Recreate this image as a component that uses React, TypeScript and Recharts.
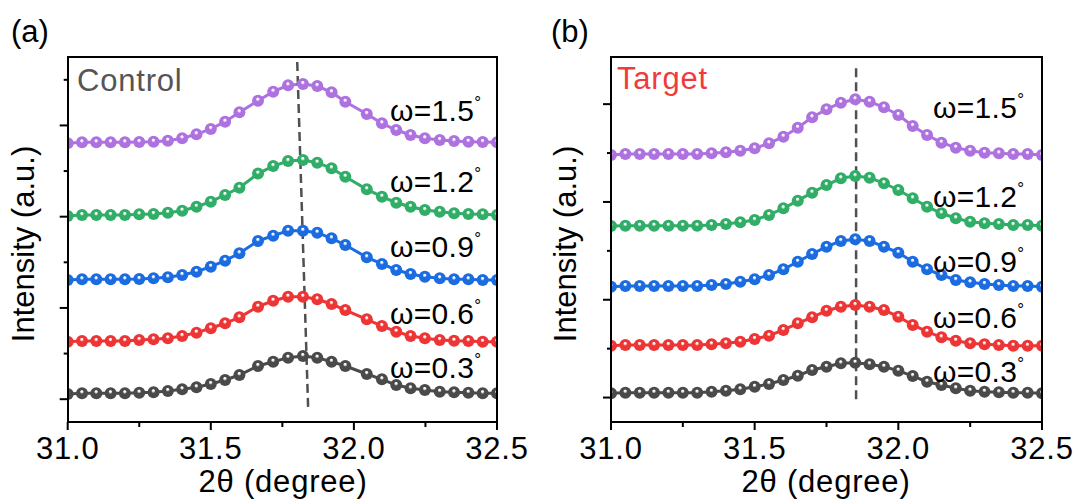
import { LineChart, Line, XAxis, YAxis, ReferenceLine } from 'recharts'

// 2θ positions of the scan points (degree)
const controlTheta = [
  31.0, 31.05, 31.1, 31.15, 31.2, 31.25, 31.3, 31.35, 31.4, 31.45, 31.5, 31.55, 31.6, 31.665, 31.718,
  31.77, 31.822, 31.872, 31.922, 31.97, 32.045, 32.098, 32.148, 32.198, 32.248, 32.3, 32.35, 32.4, 32.45, 32.5,
]
const targetTheta = [
  31.0, 31.05, 31.1, 31.15, 31.2, 31.25, 31.3, 31.35, 31.4, 31.45, 31.5, 31.55, 31.6, 31.65, 31.7, 31.75,
  31.8, 31.85, 31.9, 31.95, 32.0, 32.05, 32.1, 32.15, 32.2, 32.25, 32.3, 32.35, 32.4, 32.45, 32.5,
]

// stacked intensities (a.u.), control sample
const control03 = [
  0.307, 0.315, 0.315, 0.315, 0.315, 0.321, 0.325, 0.34, 0.358, 0.38, 0.416, 0.46, 0.515, 0.614, 0.661,
  0.705, 0.723, 0.705, 0.661, 0.614, 0.526, 0.468, 0.405, 0.369, 0.351, 0.332, 0.325, 0.321, 0.315, 0.315,
]
const control06 = [
  0.88, 0.888, 0.888, 0.888, 0.888, 0.899, 0.906, 0.917, 0.942, 0.979, 1.027, 1.082, 1.147, 1.264, 1.329,
  1.373, 1.373, 1.345, 1.293, 1.227, 1.125, 1.052, 0.99, 0.942, 0.917, 0.899, 0.891, 0.888, 0.88, 0.88,
]
const control09 = [
  1.556, 1.564, 1.564, 1.564, 1.564, 1.567, 1.575, 1.586, 1.611, 1.647, 1.702, 1.768, 1.849, 1.984, 2.042,
  2.096, 2.096, 2.075, 2.013, 1.94, 1.805, 1.732, 1.666, 1.622, 1.592, 1.575, 1.564, 1.564, 1.556, 1.556,
]
const control12 = [
  2.258, 2.268, 2.268, 2.268, 2.268, 2.276, 2.279, 2.294, 2.316, 2.359, 2.414, 2.488, 2.568, 2.722, 2.805,
  2.86, 2.871, 2.842, 2.78, 2.688, 2.55, 2.469, 2.403, 2.359, 2.323, 2.305, 2.287, 2.279, 2.276, 2.268,
]
const control15 = [
  3.054, 3.065, 3.065, 3.065, 3.065, 3.068, 3.072, 3.083, 3.109, 3.153, 3.211, 3.291, 3.394, 3.521, 3.62,
  3.69, 3.704, 3.682, 3.613, 3.51, 3.375, 3.273, 3.2, 3.145, 3.109, 3.09, 3.079, 3.072, 3.068, 3.065,
]

// stacked intensities (a.u.), target sample
const target03 = [
  0.293, 0.3, 0.3, 0.3, 0.3, 0.3, 0.3, 0.31, 0.32, 0.334, 0.361, 0.389, 0.429, 0.473, 0.532, 0.565,
  0.6, 0.606, 0.59, 0.565, 0.525, 0.47, 0.412, 0.378, 0.345, 0.32, 0.31, 0.304, 0.3, 0.3, 0.293,
]
const target06 = [
  0.78, 0.787, 0.787, 0.787, 0.787, 0.787, 0.787, 0.794, 0.805, 0.821, 0.849, 0.882, 0.941, 1.009, 1.071, 1.138,
  1.179, 1.196, 1.179, 1.145, 1.077, 0.992, 0.923, 0.866, 0.831, 0.805, 0.794, 0.787, 0.78, 0.78, 0.78,
]
const target09 = [
  1.383, 1.391, 1.391, 1.391, 1.391, 1.391, 1.391, 1.401, 1.411, 1.435, 1.459, 1.503, 1.561, 1.639, 1.718, 1.792,
  1.851, 1.868, 1.851, 1.792, 1.731, 1.639, 1.561, 1.503, 1.452, 1.428, 1.411, 1.401, 1.391, 1.391, 1.383,
]
const target12 = [
  2.004, 2.007, 2.007, 2.007, 2.007, 2.007, 2.007, 2.014, 2.025, 2.042, 2.065, 2.117, 2.185, 2.263, 2.345, 2.423,
  2.492, 2.515, 2.498, 2.441, 2.372, 2.287, 2.201, 2.134, 2.083, 2.048, 2.032, 2.025, 2.014, 2.014, 2.007,
]
const target15 = [
  2.73, 2.74, 2.74, 2.74, 2.74, 2.74, 2.74, 2.747, 2.758, 2.774, 2.798, 2.85, 2.917, 3.009, 3.116, 3.197,
  3.265, 3.3, 3.275, 3.218, 3.139, 3.027, 2.935, 2.856, 2.805, 2.774, 2.754, 2.747, 2.74, 2.74, 2.73,
]

const omegaLabels = ['ω=0.3', 'ω=0.6', 'ω=0.9', 'ω=1.2', 'ω=1.5']
const xTicks = [31, 31.25, 31.5, 31.75, 32, 32.25, 32.5]
const xTickLabels = [31, 31.5, 32, 32.5]
const controlYTicks = [0.25, 0.75, 1.25, 1.75, 2.25, 2.75, 3.25, 3.75]
const targetYTicks = [0.25, 0.75, 1.25, 1.75, 2.25, 2.75, 3.25]

const COLORS = ['#4a4a4a', '#ee3535', '#1a6ce0', '#30ad66', '#ad72e0']
const KEYS = ['w03', 'w06', 'w09', 'w12', 'w15']
const FONT = '"Liberation Sans", Arial, sans-serif'
const W = 540
const H = 499
const Y_AXIS_W = 20
const X_AXIS_H = 40

function buildRows(theta: number[], series: number[][]) {
  return theta.map((t, i) => {
    const row: Record<string, number> = { theta: t }
    series.forEach((s, k) => {
      row[KEYS[k]] = s[i]
    })
    return row
  })
}

function XTick({ x, y, payload }: any) {
  const major = xTickLabels.includes(payload.value)
  return (
    <g>
      <rect x={x - 1} y={y} width={2} height={major ? 8 : 5} fill="#000" />
      {major && (
        <text x={x} y={y + 37} textAnchor="middle" fontSize={31} letterSpacing={0.8} fontFamily={FONT} fill="#000">
          {payload.value.toFixed(1)}
        </text>
      )}
    </g>
  )
}

function YTick({ x, y, index }: any) {
  const len = index % 2 === 0 ? 8 : 4
  return <rect x={x - len} y={y - 1} width={len} height={2} fill="#000" />
}

function ball(gid: string) {
  return (p: any) =>
    p.cx == null ? (
      <g key={p.index} />
    ) : (
      <circle key={p.index} cx={p.cx} cy={p.cy} r={6} fill={`url(#${gid})`} />
    )
}

type PanelProps = {
  id: string
  left: number
  rows: Record<string, number>[]
  yMax: number
  yTicks: number[]
  dash: { x: number; y: number }[]
  letter: string
  title: string
  titleColor: string
  titleX: number
  titleY: number
  labelX: number
  labelYs: number[]
  margin: { top: number; right: number; bottom: number; left: number }
  axisTitleX: number
  yTitleX: number
}

function Panel(p: PanelProps) {
  const m = p.margin
  const x0 = m.left + Y_AXIS_W
  const x1 = W - m.right
  const y0 = m.top
  const y1 = H - m.bottom - X_AXIS_H
  return (
    <div style={{ position: 'absolute', left: p.left, top: 0, width: W, height: H }}>
      <LineChart width={W} height={H} data={p.rows} margin={m}>
        <defs>
          {COLORS.map((c, i) => (
            <radialGradient key={i} id={`${p.id}-g${i}`} cx="50%" cy="50%" r="55%" fx="48%" fy="34%">
              <stop offset="0%" stopColor="#ffffff" />
              <stop offset="14%" stopColor="#ffffff" stopOpacity={0.85} />
              <stop offset="32%" stopColor={c} />
              <stop offset="100%" stopColor={c} />
            </radialGradient>
          ))}
        </defs>
        <XAxis
          dataKey="theta"
          type="number"
          domain={[31, 32.5]}
          ticks={xTicks}
          allowDataOverflow
          axisLine={false}
          tickLine={false}
          tickSize={0}
          tickMargin={0}
          tick={<XTick />}
          height={X_AXIS_H}
          interval={0}
        />
        <YAxis
          type="number"
          domain={[0, p.yMax]}
          ticks={p.yTicks}
          allowDataOverflow
          axisLine={false}
          tickLine={false}
          tickSize={0}
          tickMargin={0}
          tick={<YTick />}
          width={Y_AXIS_W}
          interval={0}
        />
        {KEYS.map((k, i) => (
          <Line
            key={k}
            dataKey={k}
            type="linear"
            stroke={COLORS[i]}
            strokeWidth={3}
            dot={ball(`${p.id}-g${i}`)}
            activeDot={false}
            isAnimationActive={false}
          />
        ))}
        <ReferenceLine segment={p.dash} stroke="#505050" strokeWidth={2.5} strokeDasharray="9 5" />
      </LineChart>
      {/* plot frame as an html box on top of the chart */}
      <div
        style={{
          position: 'absolute',
          left: x0 - 1,
          top: y0 - 1,
          width: x1 - x0 + 2,
          height: y1 - y0 + 2,
          boxSizing: 'border-box',
          border: '2px solid #000',
          pointerEvents: 'none',
        }}
      />
      <svg
        width={W}
        height={H}
        style={{ position: 'absolute', left: 0, top: 0, pointerEvents: 'none' }}
        fontFamily={FONT}
      >
        <text x={11} y={42} fontSize={31} fill="#000">
          {p.letter}
        </text>
        <text x={p.titleX} y={p.titleY} fontSize={31} letterSpacing={0.8} fill={p.titleColor}>
          {p.title}
        </text>
        {omegaLabels.map((t, i) => (
          <text key={t} x={p.labelX} y={p.labelYs[i]} fontSize={30} letterSpacing={0.3} fill="#000">
            {t}
            <tspan fontSize={17} dy={-13}>
              °
            </tspan>
          </text>
        ))}
        <text x={p.axisTitleX} y={492} fontSize={31} letterSpacing={0.8} textAnchor="middle" fill="#000">
          2θ (degree)
        </text>
        <text
          transform={`translate(${p.yTitleX},244) rotate(-90)`}
          fontSize={31}
          textAnchor="middle"
          fill="#000"
        >
          Intensity (a.u.)
        </text>
      </svg>
    </div>
  )
}

export default function App() {
  const controlRows = buildRows(controlTheta, [control03, control06, control09, control12, control15])
  const targetRows = buildRows(targetTheta, [target03, target06, target09, target12, target15])
  return (
    <div style={{ position: 'fixed', left: 0, top: 0, width: 1078, height: 499, background: '#fff' }}>
      <Panel
        id="ctl"
        left={0}
        rows={controlRows}
        yMax={4}
        yTicks={controlYTicks}
        dash={[
          { x: 31.802, y: 3.945 },
          { x: 31.84, y: 0.164 },
        ]}
        letter="(a)"
        title="Control"
        titleColor="#555555"
        titleX={77}
        titleY={91}
        labelX={390}
        labelYs={[378, 324, 257, 192, 121]}
        margin={{ top: 57, right: 43, bottom: 37, left: 47.7 }}
        axisTitleX={283}
        yTitleX={34}
      />
      <Panel
        id="tgt"
        left={540}
        rows={targetRows}
        yMax={3.732}
        yTicks={targetYTicks}
        dash={[
          { x: 31.853, y: 3.617 },
          { x: 31.853, y: 0.225 },
        ]}
        letter="(b)"
        title="Target"
        titleColor="#ef3b3b"
        titleX={77}
        titleY={89}
        labelX={393}
        labelYs={[382, 328, 272, 207, 118]}
        margin={{ top: 57, right: 38, bottom: 37, left: 51 }}
        axisTitleX={286}
        yTitleX={36}
      />
    </div>
  )
}
